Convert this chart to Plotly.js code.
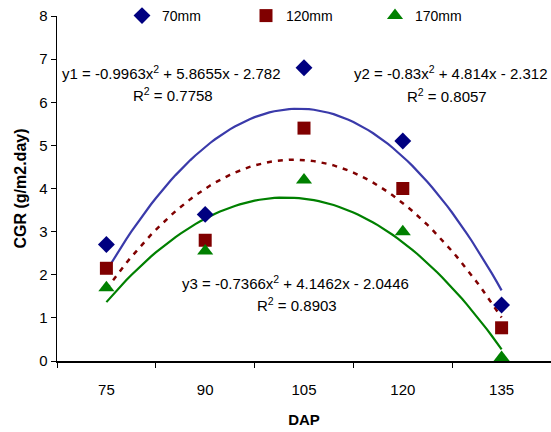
<!DOCTYPE html>
<html>
<head>
<meta charset="utf-8">
<script src="https://cdn.plot.ly/plotly-3.0.1.min.js"></script>
<style>html,body{margin:0;padding:0;background:#fff;}#chart{width:551px;height:432px;}</style>
</head>
<body>
<div id="chart"></div>
<script>
// Categories (DAP) and series values (CGR)
const categories = ['75', '90', '105', '120', '135'];
const seriesNames = ['70mm', '120mm', '170mm'];
const cgr70 = [2.7, 3.4, 6.8, 5.1, 1.3];
const cgr120 = [2.15, 2.8, 5.4, 4.0, 0.77];
const cgr170 = [1.7, 2.55, 4.2, 3.0, 0.08];
// Polynomial trendline coefficients as printed on the chart [a, b, c] for y = a x^2 + b x + c (x = category index 1..5)
const coef70 = [-0.9963, 5.8655, -2.782];
const coef120 = [-0.83, 4.814, -2.312];
const coef170 = [-0.7366, 4.1462, -2.0446];
const r2Values = ['0.7758', '0.8057', '0.8903'];

const idx = categories.map((c, i) => i + 1);
const fineX = [];
for (let t = 1; t <= 5.0001; t += 0.05) fineX.push(+t.toFixed(2));
const poly = (k) => fineX.map(x => k[0] * x * x + k[1] * x + k[2]);

const font = 'Arial, "Liberation Sans", sans-serif';
const markerColors = ['#000080', '#800000', '#008000'];
const symbols = ['diamond', 'square', 'triangle-up'];
const sizes = [13, 13, 14];
const vals = [cgr70, cgr120, cgr170];
const legendIds = ['legend', 'legend2', 'legend3'];

const traces = [];
// trendlines
traces.push({x: fineX, y: poly(coef70), mode: 'lines', line: {color: '#3a3aaa', width: 2.2}, showlegend: false, hoverinfo: 'skip'});
traces.push({x: fineX, y: poly(coef120), mode: 'lines', line: {color: '#800000', width: 2.5, dash: '5px,6px'}, showlegend: false, hoverinfo: 'skip'});
traces.push({x: fineX, y: poly(coef170), mode: 'lines', line: {color: '#008000', width: 2.2}, showlegend: false, hoverinfo: 'skip'});
for (let s = 0; s < 3; s++) {
  traces.push({x: idx, y: vals[s], name: seriesNames[s], mode: 'markers', legend: legendIds[s],
    marker: {symbol: symbols[s], size: sizes[s], color: markerColors[s]}, cliponaxis: false});
}

const ann = (xpx, ypx, text) => ({xref: 'paper', yref: 'paper', x: (xpx - 57) / 494, y: (361 - ypx) / 346,
  xanchor: 'center', yanchor: 'middle', text: text, showarrow: false, font: {family: font, size: 15}});
const leg = (symPx) => ({orientation: 'h', x: (symPx - 19 - 57) / 494, xanchor: 'left', y: 1.0, yanchor: 'middle',
  font: {family: font, size: 14}, itemwidth: 30, bgcolor: 'rgba(0,0,0,0)'});

const layout = {
  width: 551, height: 432,
  margin: {l: 57, r: 0, t: 15, b: 71},
  paper_bgcolor: '#fff', plot_bgcolor: '#fff',
  font: {family: font, color: '#000', size: 15},
  showlegend: true,
  legend: leg(141), legend2: leg(265), legend3: leg(394),
  xaxis: {
    range: [0.5, 5.5], tickvals: idx, ticktext: categories, ticks: 'outside', ticklen: 0,
    showline: true, linecolor: '#000', linewidth: 1.5, showgrid: false, zeroline: false,
    tickfont: {family: font, size: 15}, ticklabelstandoff: 14,
    minor: {tickvals: [0.5, 1.5, 2.5, 3.5, 4.5, 5.5], ticks: 'outside', ticklen: 5, tickcolor: '#000', tickwidth: 1, showgrid: false},
    title: {text: '<b>DAP</b>', font: {family: font, size: 15}, standoff: 18}
  },
  yaxis: {
    range: [0, 8], dtick: 1, ticks: 'outside', ticklen: 5, tickcolor: '#000',
    showline: true, linecolor: '#000', linewidth: 1.5, showgrid: false, zeroline: false,
    tickfont: {family: font, size: 15},
    title: {text: '<b>CGR (g/m2.day)</b>', font: {family: font, size: 16}, standoff: 8}
  },
  annotations: [
    ann(171, 72, 'y1 = -0.9963x<sup>2</sup> + 5.8655x - 2.782'),
    ann(173, 94, 'R<sup>2</sup> = ' + r2Values[0]),
    ann(450, 72, 'y2 = -0.83x<sup>2</sup> + 4.814x - 2.312'),
    ann(447, 95, 'R<sup>2</sup> = ' + r2Values[1]),
    ann(295, 282, 'y3 = -0.7366x<sup>2</sup> + 4.1462x - 2.0446'),
    ann(297, 304, 'R<sup>2</sup> = ' + r2Values[2])
  ]
};

Plotly.newPlot('chart', traces, layout, {displayModeBar: false, staticPlot: true});
</script>
</body>
</html>
